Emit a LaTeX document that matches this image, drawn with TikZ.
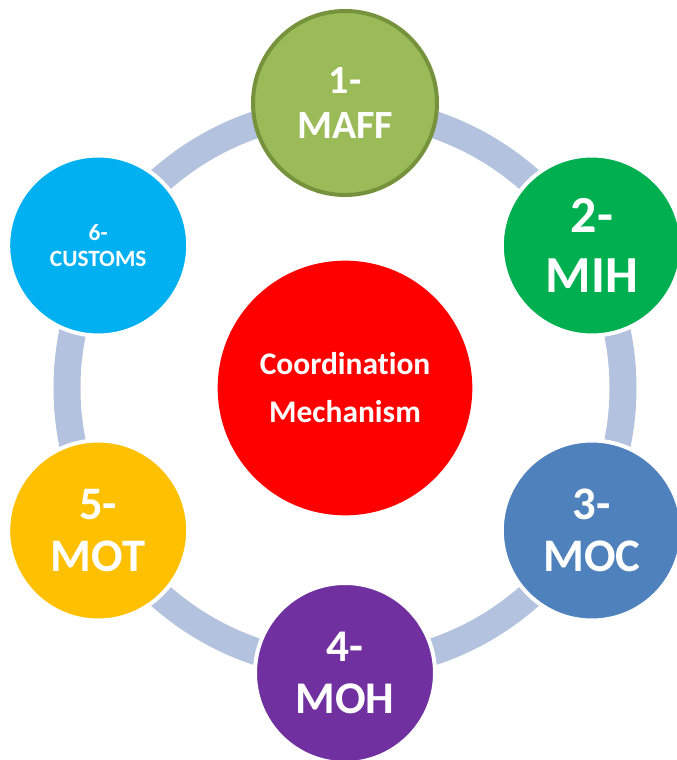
\documentclass[tikz,border=0pt]{standalone}
\usepackage{fontspec}
\setmainfont{Carlito}[Ligatures=NoCommon, RawFeature={-calt;-clig;-liga;-dlig}]
\usetikzlibrary{positioning}
\definecolor{ringblue}{HTML}{B3C2DE}
\definecolor{maffgreen}{HTML}{9BBB59}
\definecolor{maffborder}{HTML}{76923C}
\definecolor{mihgreen}{HTML}{00B050}
\definecolor{mocblue}{HTML}{4F81BD}
\definecolor{mohpurple}{HTML}{7030A0}
\definecolor{motyellow}{HTML}{FFC000}
\definecolor{customsblue}{HTML}{00B0F0}

\begin{document}
\begin{tikzpicture}[x=0.75pt,y=0.75pt,
                agency/.style={
                  circle, fill=#1, draw=white, line width=3pt,
                  minimum size=135pt, inner sep=0pt,
                  text=white, align=center
                },
                ring/.style={draw=ringblue, line width=20.25pt}
                ]
  \useasboundingbox (-345,-372) rectangle (332,388);
  % centre
  \node [circle, fill=red, minimum size=191pt, inner sep=0pt, text=white, align=center,
         font=\bfseries\fontsize{23.6pt}{36pt}\selectfont] (hub) at (0,0) {Coordination\\Mechanism};
  \draw [ring] (hub.center) circle (208.5pt);
  % the six around it
  \node [agency=maffgreen, draw=maffborder, minimum size=138pt,
         font=\bfseries\fontsize{30pt}{34.3pt}\selectfont] (maff) at (90:285) {1-\\MAFF};
  \node [agency=mihgreen, font=\bfseries\fontsize{39pt}{45pt}\selectfont] (mih) at (30:285) {2-\\MIH};
  \node [agency=mocblue, font=\bfseries\fontsize{35pt}{39.5pt}\selectfont] (moc) at (-30:285) {3-\\MOC};
  \node [agency=mohpurple, font=\bfseries\fontsize{34pt}{39.5pt}\selectfont] (moh) at (-90:285) {4-\\MOH};
  \node [agency=motyellow, font=\bfseries\fontsize{35pt}{39.5pt}\selectfont] (mot) at (-150:285) {5-\\MOT};
  \node [agency=customsblue, font=\bfseries\fontsize{17.5pt}{20pt}\selectfont] (customs) at (150:285) {6-\\CUSTOMS};
\end{tikzpicture}
\end{document}
